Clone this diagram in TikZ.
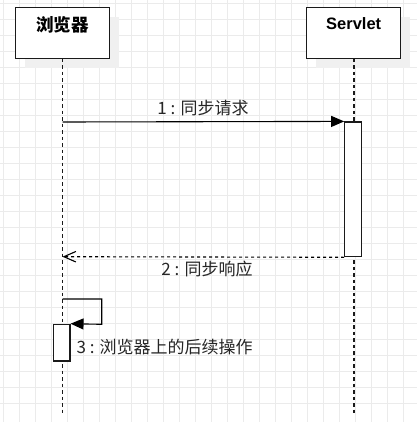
\documentclass[tikz,border=0pt]{standalone}
\usepackage{fontspec}
\setmainfont{Liberation Sans}
\newfontfamily\cjk{Noto Sans CJK SC}
\usetikzlibrary{arrows.meta}
\definecolor{gridc}{HTML}{EBEBEB}
\definecolor{shadowc}{HTML}{F0F0F0}
\definecolor{linec}{HTML}{1A1A1A}
\tikzset{
  gridline/.style={draw=gridc, line width=1pt},
  headbox/.style={draw=linec, fill=white, line width=1.5pt, minimum width=94pt, minimum height=51.4pt, inner sep=0pt},
  headshadow/.style={fill=shadowc, draw=none, minimum width=94pt, minimum height=51.4pt, inner sep=0pt},
  headtext/.style={font=\fontsize{16.5}{18}\selectfont\bfseries, inner sep=0pt, text=black},
  lifeline/.style={draw=linec, line width=1.3pt, dash pattern=on 3.5pt off 3pt},
  actbox/.style={draw=linec, fill=white, line width=1.2pt, minimum width=16.5pt, inner sep=0pt},
  msg/.style={draw=black, line width=1.1pt, -{Triangle[length=13pt,width=11pt]}},
  retmsg/.style={draw=black, line width=1.1pt, dash pattern=on 3pt off 3pt, -{Straight Barb[length=12pt,width=10.5pt,line width=1.1pt]}},
  lbl/.style={font=\cjk\fontsize{17}{19}\selectfont, inner sep=0pt, text=black!85}
}
\begin{document}
\begin{tikzpicture}[x=1pt,y=-1pt]
\useasboundingbox (0,0) rectangle (417,422);
\fill[white] (0,0) rectangle (417,422);
% grid
\foreach \i in {0,...,25} {
  \draw[gridline] ({3.7+16*\i},0) -- ({3.7+16*\i},422);
  \draw[gridline] (0,{3.7+16*\i}) -- (417,{3.7+16*\i});
}
% shadows
\node[headshadow] (sh1) at (71.8,42.5) {};
\node[headshadow] (sh2) at (363.2,42.5) {};
% header boxes
\node[headbox] (b1) at (62.3,33) {};
\node[headbox] (b2) at (353.7,33) {};
\node[headtext, font=\cjk\fontsize{17.5}{19}\selectfont\bfseries] (t1) at (62.3,24.5) {浏览器};
\node[headtext] (t2) at (353.7,23.5) {Servlet};
% lifelines
\coordinate (l1end) at (62.5,413);
\coordinate (l2end) at (354,413);
\draw[lifeline] (62.5,58.7) -- (l1end);
\draw[lifeline] (354,58.7) -- (l2end);
% activation boxes
\node[actbox, minimum height=134.7pt] (a2) at (353,189.35) {};
\node[actbox, minimum height=36.7pt] (a1) at (61.7,342.65) {};
% messages
\coordinate (m1s) at (62.5,122);
\draw[msg] (m1s) -- (a2.north west);
\coordinate (m2e) at (62.5,256.7);
\draw[retmsg] (a2.south west) -- (m2e);
\coordinate (m3s) at (62.5,299);
\coordinate (m3c1) at (101.7,299);
\coordinate (m3c2) at (101.7,324.3);
\draw[msg] (m3s) -- (m3c1) -- (m3c2) -- (a1.north east);
% labels
\node[lbl] (lb1) at (203,108) {1 : 同步请求};
\node[lbl] (lb2) at (207,269) {2 : 同步响应};
\node[lbl, anchor=west] (lb3) at (76.5,347) {3 : 浏览器上的后续操作};
\end{tikzpicture}
\end{document}
